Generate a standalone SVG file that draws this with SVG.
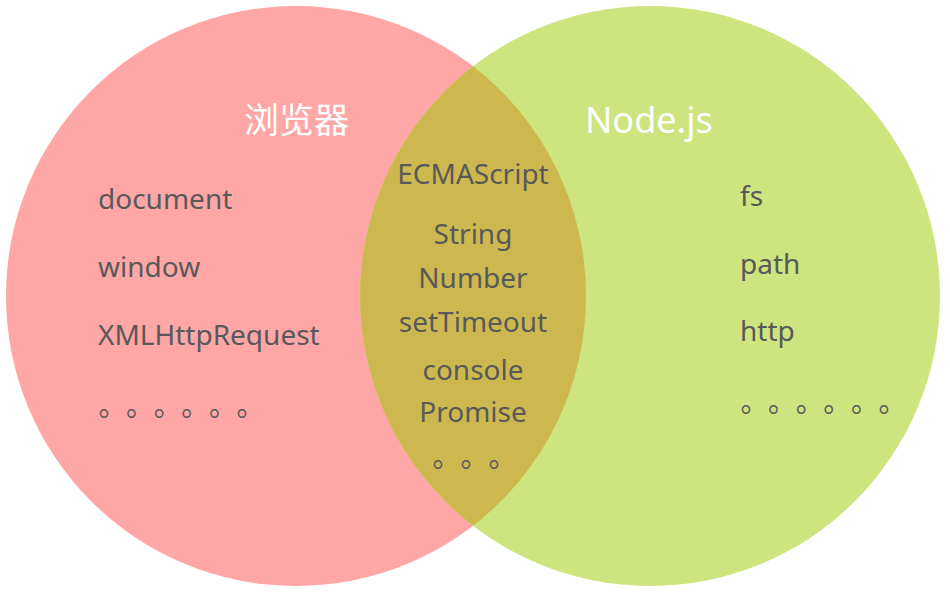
<svg xmlns="http://www.w3.org/2000/svg" width="950" height="598" viewBox="0 0 950 598">
<style>
.t{font-family:"Noto Sans","Noto Sans CJK SC",sans-serif;font-size:28px;fill:#595959}
.h{font-family:"Noto Sans","Noto Sans CJK SC",sans-serif;font-size:35px;fill:#ffffff}
.d{font-family:"Noto Sans CJK SC",sans-serif;font-size:28px;fill:#595959}
.c{text-anchor:middle}
</style>
<rect width="950" height="598" fill="#ffffff"/>
<g id="browser">
<circle cx="296" cy="296" r="290" fill="#FFA6A6"/>
</g>
<g id="node">
<circle cx="650" cy="296" r="290" fill="#CDE47F"/>
</g>
<g id="common">
<path d="M473 66.3 A290 290 0 0 1 473 525.7 A290 290 0 0 1 473 66.3 Z" fill="#CDB850"/>
</g>
<g id="connectors"></g>
<g id="browser-text">
<text class="h" x="244" y="133">浏览器</text>
<text class="t" x="98" y="209">document</text>
<text class="t" x="98" y="277">window</text>
<text class="t" x="98" y="345">XMLHttpRequest</text>
<text class="d" x="98.5 126 153.7 181.3 209 236.6" y="416">。。。。。。</text>
</g>
<g id="node-text">
<text class="h" x="585" y="133" style="font-size:36px">Node.js</text>
<text class="t" x="740" y="206">fs</text>
<text class="t" x="740" y="274">path</text>
<text class="t" x="740" y="341">http</text>
<text class="d" x="740.5 768 795.7 823.3 851 878.6" y="412">。。。。。。</text>
</g>
<g id="common-text">
<text class="t c" x="473" y="184">ECMAScript</text>
<text class="t c" x="473" y="244">String</text>
<text class="t c" x="473" y="288">Number</text>
<text class="t c" x="473" y="332">setTimeout</text>
<text class="t c" x="473" y="380">console</text>
<text class="t c" x="473" y="422">Promise</text>
<text class="d" x="432.5 460.5 488.5" y="467">。。。</text>
</g>
</svg>
